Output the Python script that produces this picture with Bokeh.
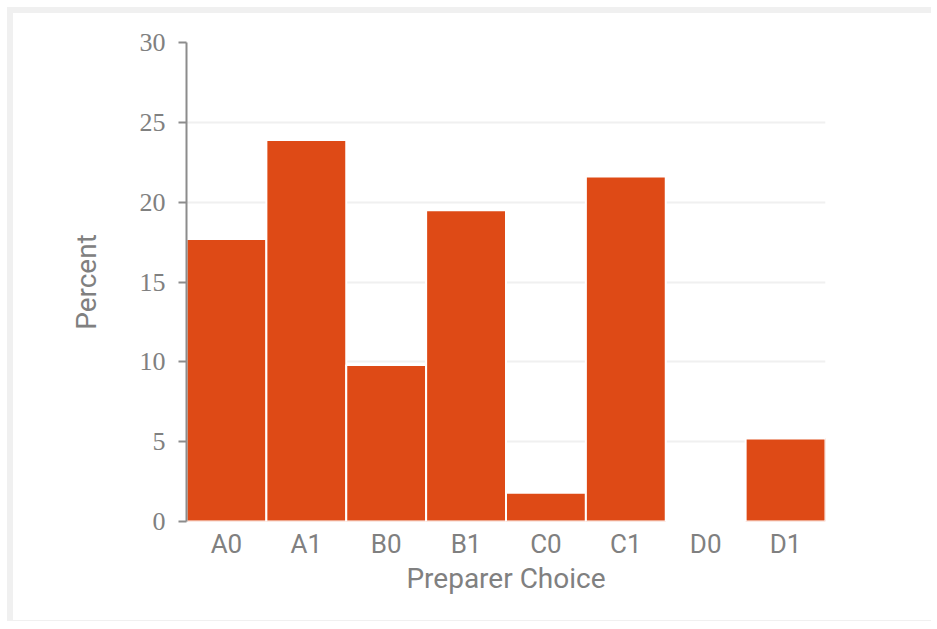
from bokeh.plotting import figure
from bokeh.models import ColumnDataSource, FactorRange, Range1d, FixedTicker
from bokeh.embed import file_html
from bokeh.resources import INLINE

categories = ["A0", "A1", "B0", "B1", "C0", "C1", "D0", "D1"]
percent = [17.7, 23.9, 9.8, 19.5, 1.8, 21.6, 0.0, 5.2]
y_ticks = [0, 5, 10, 15, 20, 25, 30]

source = ColumnDataSource(data=dict(cat=categories, pct=percent))

p = figure(width=924, height=614, output_backend="svg", toolbar_location=None,
           x_range=FactorRange(*categories, range_padding=0),
           y_range=Range1d(0, 30),
           min_border_left=173, min_border_right=112, min_border_top=29, min_border_bottom=106)

# light outer frame around the chart area
p.styles = {"margin-left": "7px", "margin-top": "7px",
            "border-left": "6px solid #f0f0f0", "border-top": "6px solid #f0f0f0",
            "border-bottom": "1px solid #f0f0f0"}

p.vbar(x="cat", top="pct", width=1.0, source=source,
       fill_color="#DE4A16", line_color="white", line_width=2)

p.outline_line_color = None
p.background_fill_color = "white"
p.border_fill_color = "white"

# Y axis
p.yaxis.ticker = FixedTicker(ticks=y_ticks)
p.yaxis.axis_line_color = "#8c8c8c"
p.yaxis.axis_line_width = 2
p.yaxis.major_tick_line_color = "#8c8c8c"
p.yaxis.major_tick_line_width = 2
p.yaxis.major_tick_out = 8
p.yaxis.major_tick_in = 0
p.yaxis.minor_tick_line_color = None
p.yaxis.major_label_text_font = "Liberation Serif"
p.yaxis.major_label_text_font_size = "26px"
p.yaxis.major_label_text_color = "#808080"
p.yaxis.major_label_standoff = 13
p.yaxis.axis_label = "Percent"
p.yaxis.axis_label_text_font = "Roboto"
p.yaxis.axis_label_text_font_style = "normal"
p.yaxis.axis_label_text_font_size = "28px"
p.yaxis.axis_label_text_color = "#808080"
p.yaxis.axis_label_standoff = 34

# X axis
p.xaxis.axis_line_color = None
p.xaxis.major_tick_line_color = None
p.xaxis.major_tick_out = 0
p.xaxis.major_tick_in = 0
p.xaxis.minor_tick_line_color = None
p.xaxis.major_label_text_font = "Roboto"
p.xaxis.major_label_text_font_size = "26px"
p.xaxis.major_label_text_color = "#808080"
p.xaxis.major_label_standoff = 7
p.xaxis.axis_label = "Preparer Choice"
p.xaxis.axis_label_text_font = "Roboto"
p.xaxis.axis_label_text_font_style = "normal"
p.xaxis.axis_label_text_font_size = "28px"
p.xaxis.axis_label_text_color = "#808080"
p.xaxis.axis_label_standoff = 0

# Grid
p.xgrid.grid_line_color = None
p.ygrid.ticker = FixedTicker(ticks=y_ticks)
p.ygrid.grid_line_color = "#f0f0f0"
p.ygrid.grid_line_width = 2

open("out.html", "w").write(file_html(p, INLINE))
